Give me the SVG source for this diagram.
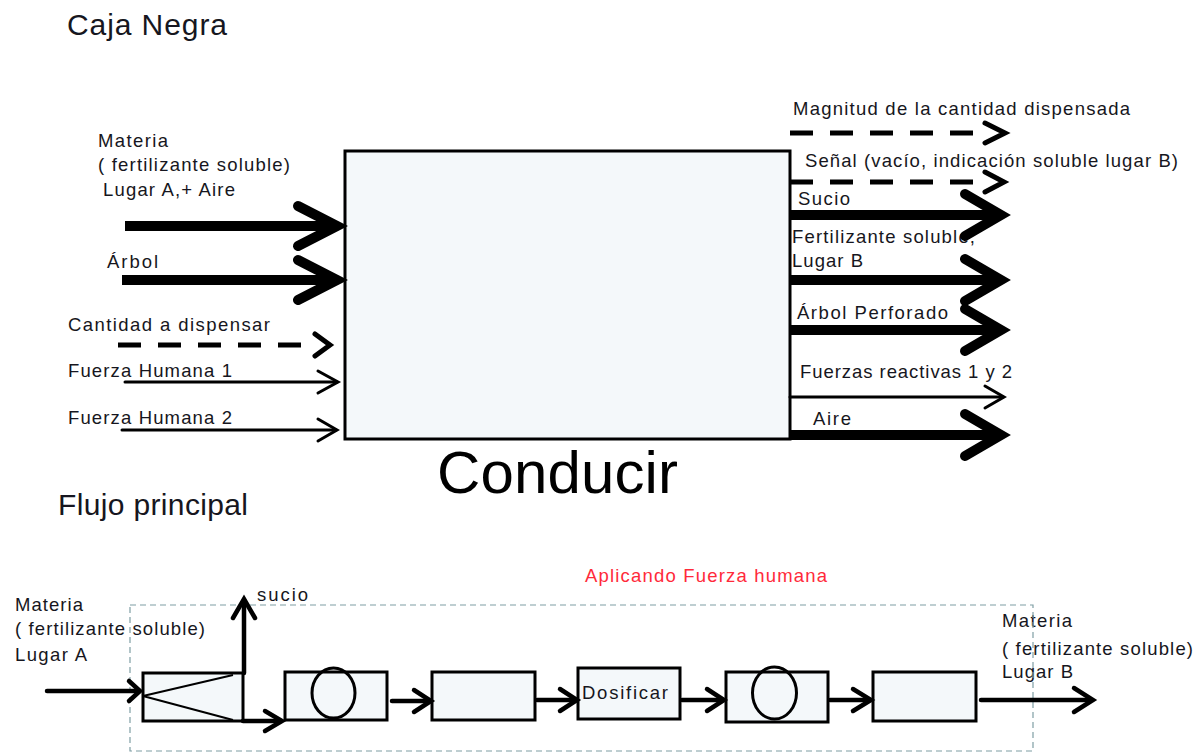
<svg xmlns="http://www.w3.org/2000/svg" width="1203" height="753" viewBox="0 0 1203 753">
  <style>
    text { font-family: "Liberation Sans", Arial, sans-serif; fill: #161620; }
    .lbl { font-size: 18.5px; }
    .title { font-size: 30px; }
    .big { font-size: 60px; fill: #000; }
    .red { fill: #ff2a3a; }
    .box { fill: #f4f8fa; stroke: #000; stroke-width: 3; }
    .thick { fill: none; stroke: #000; stroke-width: 10; stroke-linecap: round; stroke-linejoin: miter; }
    .thickline { fill: none; stroke: #000; stroke-width: 10; }
    .dash { fill: none; stroke: #000; stroke-width: 5; stroke-dasharray: 23 17; }
    .dhead { fill: none; stroke: #000; stroke-width: 5; stroke-linecap: round; }
    .thin { fill: none; stroke: #000; stroke-width: 3; stroke-linecap: round; }
    .flow { fill: none; stroke: #000; stroke-width: 4.5; stroke-linecap: round; }
    .frame { fill: none; stroke: #7f9ea4; stroke-width: 1.2; stroke-dasharray: 6 4; }
  </style>

  <!-- Titles -->
  <text class="title" x="67" y="35" textLength="160">Caja Negra</text>
  <text class="title" x="58" y="515" textLength="190">Flujo principal</text>

  <!-- Black box -->
  <g id="conducir">
    <rect class="box" x="345" y="151" width="445" height="288"/>
    <text class="big" x="437" y="493" textLength="241">Conducir</text>
  </g>

  <!-- Input labels -->
  <g id="inputs-labels">
    <text class="lbl" x="98" y="147" textLength="70">Materia</text>
    <text class="lbl" x="98" y="171" textLength="192">( fertilizante soluble)</text>
    <text class="lbl" x="103" y="196" textLength="132">Lugar A,+ Aire</text>
    <text class="lbl" x="107" y="268" textLength="51">Árbol</text>
    <text class="lbl" x="68" y="331" textLength="202">Cantidad a dispensar</text>
    <text class="lbl" x="68" y="377" textLength="164">Fuerza Humana 1</text>
    <text class="lbl" x="68" y="424" textLength="164">Fuerza Humana 2</text>
  </g>

  <!-- Output labels -->
  <g id="outputs-labels">
    <text class="lbl" x="793" y="115" textLength="337">Magnitud de la cantidad dispensada</text>
    <text class="lbl" x="805" y="167" textLength="373">Señal (vacío, indicación soluble lugar B)</text>
    <text class="lbl" x="798" y="205" textLength="52">Sucio</text>
    <text class="lbl" x="792" y="243" textLength="183">Fertilizante soluble,</text>
    <text class="lbl" x="792" y="267" textLength="71">Lugar B</text>
    <text class="lbl" x="797" y="319" textLength="151">Árbol Perforado</text>
    <text class="lbl" x="800" y="378" textLength="212">Fuerzas reactivas 1 y 2</text>
    <text class="lbl" x="813" y="425" textLength="38">Aire</text>
  </g>

  <!-- Main flow labels -->
  <g id="flow-labels">
    <text class="lbl red" x="585" y="582" textLength="242">Aplicando Fuerza humana</text>
    <text class="lbl" x="257" y="601" textLength="51">sucio</text>
    <text class="lbl" x="15" y="611" textLength="68">Materia</text>
    <text class="lbl" x="15" y="635" textLength="190">( fertilizante soluble)</text>
    <text class="lbl" x="15" y="661" textLength="72">Lugar A</text>
    <text class="lbl" x="1002" y="627" textLength="70">Materia</text>
    <text class="lbl" x="1002" y="655" textLength="191">( fertilizante soluble)</text>
    <text class="lbl" x="1002" y="678" textLength="71">Lugar B</text>
  </g>

  <!-- Human force boundary -->
  <rect id="fuerza-humana" class="frame" x="130" y="605" width="903" height="146"/>

  <!-- Process steps -->
  <g id="separar">
    <rect class="box" x="143" y="673" width="100" height="48"/>
    <polyline points="233,675 143,696 233,720" fill="none" stroke="#000" stroke-width="2"/>
  </g>
  <g id="paso-2">
    <rect class="box" x="285" y="672" width="102" height="48"/>
    <ellipse cx="333.5" cy="693" rx="21.5" ry="25" fill="none" stroke="#000" stroke-width="3"/>
  </g>
  <g id="paso-3">
    <rect class="box" x="432" y="672" width="103" height="48"/>
  </g>
  <g id="dosificar">
    <rect class="box" x="578" y="668" width="102" height="51"/>
    <text class="lbl" x="582" y="699" textLength="86">Dosificar</text>
  </g>
  <g id="paso-5">
    <rect class="box" x="726" y="672" width="102" height="50"/>
    <ellipse cx="774.5" cy="693" rx="22" ry="26" fill="none" stroke="#000" stroke-width="3"/>
  </g>
  <g id="paso-6">
    <rect class="box" x="873" y="672" width="103" height="49"/>
  </g>

  <!-- Connectors -->
  <g id="connectors">
    <!-- inputs -->
    <line class="thickline" x1="125" y1="226" x2="334" y2="226"/>
    <polyline class="thick" points="298,206 337,226 298,246"/>
    <line class="thickline" x1="122" y1="280" x2="334" y2="280"/>
    <polyline class="thick" points="298,260 337,280 298,300"/>
    <line class="dash" x1="118" y1="345" x2="310" y2="345"/>
    <polyline class="dhead" points="315,334 330,345 315,356"/>
    <line class="thin" x1="125" y1="382" x2="337" y2="382"/>
    <polyline class="thin" points="318,371 338,382 318,393"/>
    <line class="thin" x1="122" y1="430" x2="336" y2="430"/>
    <polyline class="thin" points="318,419 337,430 318,441"/>

    <!-- outputs -->
    <line class="dash" x1="790" y1="133" x2="980" y2="133"/>
    <polyline class="dhead" points="985,123 1005,133 985,143"/>
    <line class="dash" x1="790" y1="182" x2="980" y2="182"/>
    <polyline class="dhead" points="985,172 1004,182 985,192"/>
    <line class="thickline" x1="790" y1="215" x2="998" y2="215"/>
    <polyline class="thick" points="965,194 1001,215 965,236"/>
    <line class="thickline" x1="790" y1="280" x2="998" y2="280"/>
    <polyline class="thick" points="965,259 1001,280 965,301"/>
    <line class="thickline" x1="790" y1="330" x2="998" y2="330"/>
    <polyline class="thick" points="965,309 1001,330 965,351"/>
    <line class="thin" x1="790" y1="397" x2="1003" y2="397"/>
    <polyline class="thin" points="985,386 1004,397 985,408"/>
    <line class="thickline" x1="790" y1="435" x2="998" y2="435"/>
    <polyline class="thick" points="965,414 1001,435 965,456"/>

    <!-- main flow -->
    <line class="flow" x1="47" y1="691" x2="139" y2="691"/>
    <polyline class="flow" points="129,681 140,691 129,701"/>
    <line class="flow" x1="244" y1="673" x2="244" y2="600"/>
    <polyline class="flow" points="233,618 244,599 255,618"/>
    <line class="flow" x1="243" y1="721" x2="281" y2="721"/>
    <polyline class="flow" points="265,711 282,721 265,731"/>
    <line class="flow" x1="392" y1="701" x2="430" y2="701"/>
    <polyline class="flow" points="414,690 431,701 414,712"/>
    <line class="flow" x1="537" y1="700" x2="576" y2="700"/>
    <polyline class="flow" points="560,689 577,700 560,711"/>
    <line class="flow" x1="682" y1="700" x2="723" y2="700"/>
    <polyline class="flow" points="707,689 724,700 707,711"/>
    <line class="flow" x1="830" y1="700" x2="870" y2="700"/>
    <polyline class="flow" points="853,689 871,700 853,711"/>
    <line class="flow" x1="981" y1="700" x2="1091" y2="700"/>
    <polyline class="flow" points="1074,688 1093,700 1074,712"/>
  </g>
</svg>
